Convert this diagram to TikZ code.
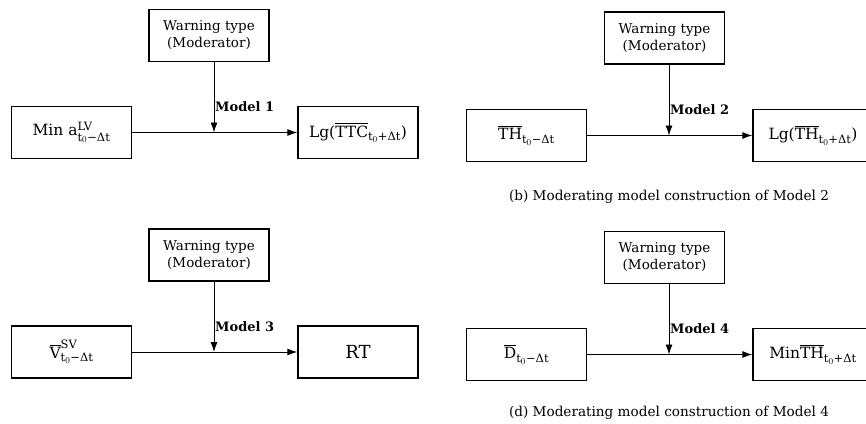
\documentclass[tikz,border=0pt]{standalone}
\usepackage{amsmath}
\usepackage{fontspec}
\setmainfont{DejaVu Serif}
\usetikzlibrary{arrows.meta}
\DeclareMathSizes{15.5}{15.5}{11.5}{9}
\newcommand{\tx}[1]{\text{#1}}
\begin{document}
\begin{tikzpicture}[x=1pt,y=-1pt,
  box/.style={draw,line width=1.4pt,minimum width=120pt,minimum height=52pt,inner sep=0pt,font=\fontsize{13.5}{17}\selectfont,align=center},
  varbox/.style={box,font=\fontsize{15.5}{18}\selectfont},
  link/.style={line width=0.9pt,-{Latex[length=10pt,width=7pt]}},
  modlbl/.style={font=\fontsize{13}{16}\selectfont\bfseries,anchor=south west,inner sep=1pt},
  caption/.style={font=\fontsize{13.6}{16}\selectfont}]
\clip (0,0) rectangle (866,423);

% (a)
\node[box] (modA) at (209,35.5) {Warning type\\(Moderator)};
\node[varbox] (inA)  at (71.5,132.5) {Min $\tx{a}^{\tx{LV}}_{\tx{t}_0\tx{−Δt}}$};
\node[varbox] (outA) at (358,132.5) {Lg($\overline{\tx{TTC}}_{\tx{t}_0\tx{+Δt}}$)};
\coordinate (jA) at (214,132.5);
\draw[link] (inA.east) -- (outA.west);
\draw[link] (jA |- modA.south) -- (jA);
\node[modlbl] at (jA |- 0,113) {Model 1};

% (b)
\node[box] (modB) at (664.5,38) {Warning type\\(Moderator)};
\node[varbox] (inB)  at (526.5,135.5) {$\overline{\tx{TH}}_{\tx{t}_0\tx{−Δt}}$};
\node[varbox] (outB) at (813,135.5) {Lg($\overline{\tx{TH}}_{\tx{t}_0\tx{+Δt}}$)};
\coordinate (jB) at (669,135.5);
\draw[link] (inB.east) -- (outB.west);
\draw[link] (jB |- modB.south) -- (jB);
\node[modlbl] at (jB |- 0,116) {Model 2};
\node[caption] (capB) at (669,197) {(b) Moderating model construction of Model 2};

% (c)
\node[box] (modC) at (209,255) {Warning type\\(Moderator)};
\node[varbox] (inC)  at (71.5,352) {$\overline{\tx{V}}^{\tx{SV}}_{\tx{t}_0\tx{−Δt}}$};
\node[box,font=\fontsize{18}{20}\selectfont] (outC) at (358,352) {RT};
\coordinate (jC) at (214,352);
\draw[link] (inC.east) -- (outC.west);
\draw[link] (jC |- modC.south) -- (jC);
\node[modlbl] at (jC |- 0,333) {Model 3};

% (d)
\node[box] (modD) at (664.5,257.5) {Warning type\\(Moderator)};
\node[varbox] (inD)  at (526.5,354.5) {$\overline{\tx{D}}_{\tx{t}_0\tx{−Δt}}$};
\node[varbox] (outD) at (813,354.5) {Min$\overline{\tx{TH}}_{\tx{t}_0\tx{+Δt}}$};
\coordinate (jD) at (669,354.5);
\draw[link] (inD.east) -- (outD.west);
\draw[link] (jD |- modD.south) -- (jD);
\node[modlbl] at (jD |- 0,335) {Model 4};
\node[caption] (capD) at (669,413) {(d) Moderating model construction of Model 4};
\end{tikzpicture}
\end{document}
